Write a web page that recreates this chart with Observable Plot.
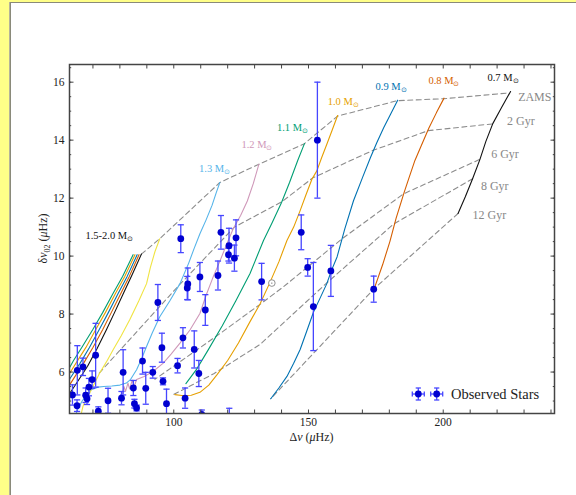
<!DOCTYPE html>
<html>
<head>
<meta charset="utf-8">
<script src="https://cdn.jsdelivr.net/npm/d3@7"></script>
<script src="https://cdn.jsdelivr.net/npm/@observablehq/plot@0.6"></script>
<style>
  html, body { margin: 0; padding: 0; }
  body { width: 576px; height: 495px; background: #ffff88; position: relative; overflow: hidden; font-family: "Liberation Serif", serif; }
  #panel { position: absolute; left: 10px; top: 2px; width: 600px; height: 520px; background: #fff; border: 1.5px solid #8a8a7a; box-shadow: -1px 0 0 #b5b39a; }
  #chart { position: absolute; left: 0; top: 0; }
  svg { background: transparent !important; }
</style>
</head>
<body>
<div id="panel"></div>
<div id="chart"></div>
<script>
// ---------- Observed stars: Δν, δν02, error ----------
const starDnu  = [153.3,102.6,117.5,120.5,120.3,123.1,122.5,116.4,109.7,105.2,105.0,94.1,111.7,103.4,95.6,107.6,101.4,109.3,88.4,81.2,92.2,96.0,85.0,89.6,80.6,75.6,85.4,86.2,97.3,104.2,72.0,110.4,120.6,147.3,149.7,158.3,151.8,174.2,132.6,71.0,64.2,66.3,69.7,68.5,67.3,67.8,62.4,64.1];
const starD02  = [14.0,10.6,10.82,10.36,10.05,10.63,9.93,9.33,9.28,9.04,8.9,8.4,8.14,7.18,6.84,6.78,6.22,5.95,6.38,5.99,5.99,5.68,5.45,5.44,5.1,5.01,4.91,4.76,4.91,5.1,4.65,4.54,4.35,10.82,9.61,9.49,8.26,8.86,9.12,6.58,6.06,6.18,5.74,5.48,5.2,5.08,5.21,4.84];
const starErr  = [2.0,0.48,0.58,0.6,0.22,0.62,0.45,0.5,0.5,0.55,0.4,0.62,0.53,0.35,0.5,0.64,0.25,0.45,0.45,0.78,0.2,0.12,0.26,0.55,0.23,0.43,0.15,0.1,0.5,0.35,0.15,0.15,0.4,0.6,0.3,0.88,1.52,0.45,0.63,1.1,0.85,0.3,0.3,0.3,0.25,0.2,0.35,0.2];

// ---------- Evolution tracks (Δν, δν02) ----------
const trackNames  = ["0.7","0.8","0.9","1.0","1.1","1.2","1.3","1.4","1.5","1.6","1.7","1.8","1.9"];
const trackColors = ["#111111","#D55E00","#0072B2","#E69F00","#009E73","#cf98b9","#56B4E9","#F0E442","#111111","#D55E00","#0072B2","#E69F00","#009E73"];
const track07 = [[225,15.68],[221.5,15.1],[218.4,14.57],[215.8,13.95],[213.6,13.33],[210.9,12.67],[208.2,12.05],[205.5,11.47]];
const track08 = [[200.3,15.45],[197.5,14.95],[194.6,14.4],[191.8,13.8],[189.5,13.3],[187.3,12.7],[185.5,12.2],[182.5,11.3],[180.2,10.5],[177.5,9.7],[174.4,8.88]];
const track09 = [[183.1,15.38],[180.5,14.9],[177.9,14.43],[175.3,13.9],[173,13.4],[170,12.7],[166.7,11.91],[163.5,10.95],[160.6,9.97],[158.5,9.5],[156.8,9.05],[154.3,8.55],[151.9,8.08],[149.3,7.4],[146.9,6.78],[144.5,6.3],[142,5.85],[139,5.45],[136,5.08]];
const track10 = [[160.8,14.85],[158.8,14.35],[156.8,13.86],[154.9,13.4],[153.1,12.94],[151.3,12.66],[149,12.1],[146.9,11.57],[144.5,11.0],[142,10.54],[139,9.8],[135.5,9.05],[132,8.35],[128.3,7.74],[124,7.0],[120,6.4],[116,5.9],[113,5.55],[109.7,5.3],[106.5,5.2],[103,5.19],[100.4,5.22]];
const track11 = [[148.5,13.88],[146,13.3],[143,12.55],[140,11.85],[136.5,11.15],[133.3,10.54],[128.3,9.4],[123,8.45],[118,7.6],[113,6.8],[108.5,6.1],[104.5,5.6]];
const track12 = [[131.6,13.17],[129.5,12.5],[127.3,11.9],[124.8,11.4],[122.1,10.95],[119.6,10.4],[117,9.8],[114.7,9.3],[112,8.65],[109.7,8.02],[106,7.45],[102.3,7.0],[99,6.62],[96.1,6.31],[92.3,6.02],[89,5.85],[86.2,5.74],[85.3,5.5],[84.6,5.72],[83.6,5.42],[83,5.62],[82.1,5.33],[81.5,5.5],[81,5.25]];
const track13 = [[117.1,12.54],[115.8,12.2],[114.2,11.75],[112,11.25],[109.7,10.77],[107.5,10.25],[105.5,9.75],[102.3,9.05],[98.5,8.45],[94.8,7.91],[92,7.35],[89.9,6.88],[88,6.45],[86.2,6.08],[84,5.75],[82.4,5.62],[80,5.55],[77,5.52],[74,5.5],[71.9,5.48],[69.4,5.39],[67.5,5.2],[66,5.0],[64.5,4.75],[63.5,4.5]];
const track14 = [[94.8,10.6],[93,10.15],[91.3,9.6],[89.9,9.05],[87,8.45],[83.7,7.81],[80.5,7.25],[77.5,6.77],[75,6.35],[72.5,5.97],[70.5,5.6],[68.8,5.28],[67.5,5.05],[66.3,4.82],[65.5,4.5]];
const track15 = [[88.0,10.07],[84.5,9.35],[81.5,8.75],[78,8.05],[75,7.46],[71.5,6.8],[68,6.2],[64.5,5.7],[61.3,5.25]];
const track16 = [[87.1,10.05],[83.5,9.3],[80.3,8.7],[76.8,8.05],[73.6,7.46],[70,6.85],[66.5,6.3],[63,5.8],[61.3,5.55]];
const track17 = [[86.4,10.05],[82.7,9.3],[79.3,8.7],[75.7,8.05],[72.3,7.46],[68.7,6.85],[65.2,6.3],[61.3,5.75]];
const track18 = [[85.6,10.05],[81.8,9.3],[78.3,8.7],[74.6,8.05],[71,7.46],[67.4,6.85],[64,6.35],[61.3,5.95]];
const track19 = [[84.9,10.05],[81,9.3],[77.4,8.7],[73.6,8.05],[69.9,7.46],[66.2,6.9],[62.8,6.4],[61.3,6.15]];
const tracks = [track07,track08,track09,track10,track11,track12,track13,track14,track15,track16,track17,track18,track19];

// ---------- Isochrones ----------
const isoNames = ["ZAMS","2 Gyr","6 Gyr","8 Gyr","12 Gyr"];
const isoZAMS = [[88.0,10.07],[94.8,10.6],[117.1,12.54],[131.6,13.17],[148.5,13.88],[160.8,14.83],[182.9,15.36],[200.2,15.43],[224.4,15.63]];
const iso2  = [[218.2,14.56],[194.5,14.33],[174,13.65],[151.6,12.7],[140.2,11.88],[122.5,11.0],[102,9.0],[72.2,5.95]];
const iso6  = [[213.4,13.33],[185.3,12.15],[162.5,10.6],[140.7,8.94],[131.5,8.3],[116,7.25],[93,5.75]];
const iso8  = [[210.9,12.67],[181.5,11.1],[156.5,9.05],[132,6.95],[115,5.95],[99,5.18]];
const iso12 = [[205.5,11.47],[174.4,8.88],[136,5.08]];
const isos = [isoZAMS, iso2, iso6, iso8, iso12];

// ---------- Labels ----------
const massLabels = ["1.5-2.0","1.3","1.2","1.1","1.0","0.9","0.8","0.7"];
const massLabelX = [67.2,109.4,125.1,138.3,157.1,174.9,194.5,216.4];
const massLabelY = [10.71,13.03,13.84,14.44,15.34,15.83,16.05,16.14];
const massLabelC = ["#111111","#56B4E9","#cf98b9","#009E73","#E69F00","#0072B2","#D55E00","#111111"];
const isoLabelX = [227.8,223.7,217.8,214.0,210.9];
const isoLabelY = [15.50,14.65,13.52,12.41,11.40];
const sun = [[136.4,9.07]];

const xTicks = [100,150,200];
const yTicks = [6,8,10,12,14,16];

// flatten tables
const trackRows = tracks.flatMap((t, i) => t.map(([x, y]) => ({x, y, name: trackNames[i]})));
const isoRows = isos.flatMap((t, i) => t.map(([x, y]) => ({x, y, name: isoNames[i]})));
const stars = starDnu.map((x, i) => ({x, y: starD02[i], lo: starD02[i] - starErr[i], hi: starD02[i] + starErr[i]}));
const mlab = massLabels.map((m, i) => ({x: massLabelX[i], y: massLabelY[i], m, c: massLabelC[i]}));
const ilab = isoNames.map((n, i) => ({x: isoLabelX[i], y: isoLabelY[i], n}));

const xDom = [61.3, 241.3], yDom = [4.57, 16.61];
const minorX = d3.range(70, 241, 10);
const minorY = d3.range(5, 16.6, 0.5);
const font = "Liberation Serif, serif";

// horizontal-bar symbol for error-bar caps
const capSymbol = {draw(ctx, size) { const w = Math.sqrt(size / Math.PI); ctx.moveTo(-w, 0); ctx.lineTo(w, 0); }};
const errColor = "#4646ff";
const dotColor = "#0000d0";

const plot = Plot.plot({
  width: 576, height: 495,
  marginLeft: 69, marginRight: 22, marginTop: 64, marginBottom: 82,
  style: {fontFamily: font, background: "transparent", color: "#222"},
  x: {domain: xDom},
  y: {domain: yDom},
  color: {domain: trackNames, range: trackColors},
  marks: [
    Plot.line(isoRows, {x: "x", y: "y", z: "name", stroke: "#8c8c8c", strokeWidth: 1.1, strokeDasharray: "5,3.5", clip: true}),
    Plot.line(trackRows, {x: "x", y: "y", z: "name", stroke: "name", strokeWidth: 1.1, clip: true}),
    Plot.ruleX(stars, {x: "x", y1: "lo", y2: "hi", stroke: errColor, strokeWidth: 1.3, clip: true}),
    Plot.dot(stars, {x: "x", y: "lo", symbol: capSymbol, r: 3.1, stroke: errColor, strokeWidth: 1.3, clip: true}),
    Plot.dot(stars, {x: "x", y: "hi", symbol: capSymbol, r: 3.1, stroke: errColor, strokeWidth: 1.3, clip: true}),
    Plot.dot(stars, {x: "x", y: "y", r: 3.4, fill: dotColor, clip: true}),
    Plot.dot(sun, {x: d => d[0], y: d => d[1], r: 3.3, stroke: "#777", strokeWidth: 0.8, fill: "white"}),
    Plot.dot(sun, {x: d => d[0], y: d => d[1], r: 0.6, fill: "#555"}),
    Plot.text(mlab, {x: "x", y: "y", text: "m", fill: "c", textAnchor: "start", fontSize: 10.5, fontFamily: font}),
    Plot.text(ilab, {x: "x", y: "y", text: "n", fill: "#888", textAnchor: "start", fontSize: 12, fontFamily: font}),
    Plot.frame({stroke: "#444", strokeWidth: 1.5}),
    Plot.axisX(xTicks, {anchor: "bottom", tickSize: 0, tickPadding: 4, fontSize: 11.5, fontFamily: font, label: null}),
    Plot.axisX(minorX, {anchor: "bottom", tickSize: -3.5, text: null, label: null, stroke: "#444"}),
    Plot.axisX(minorX, {anchor: "top", tickSize: -3.5, text: null, label: null, stroke: "#444"}),
    Plot.axisY(yTicks, {anchor: "left", tickSize: 0, tickPadding: 5, fontSize: 11.5, fontFamily: font, label: null}),
    Plot.axisY(yTicks, {anchor: "left", tickSize: -4.5, text: null, label: null, stroke: "#444"}),
    Plot.axisY(minorY, {anchor: "left", tickSize: -2.2, text: null, label: null, stroke: "#444"}),
    Plot.axisY(yTicks, {anchor: "right", tickSize: -4.5, text: null, label: null, stroke: "#444"}),
    Plot.axisY(minorY, {anchor: "right", tickSize: -2.2, text: null, label: null, stroke: "#444"})
  ]
});

document.getElementById("chart").appendChild(plot);

// solar subscript on mass labels, axis titles, legend
const svg = d3.select(plot);
svg.selectAll("text").filter(function() { return /^\d\.\d(-2\.0)?$/.test(this.textContent); })
  .each(function() {
    const t = d3.select(this);
    const txt = t.text();
    t.text(txt + " M");
    t.append("tspan").attr("font-size", 7).attr("dy", 2).text("\u2299");
  });

const fx = plot.scale("x"), fy = plot.scale("y");
const x0 = fx.apply(xDom[0]), x1 = fx.apply(xDom[1]), y0 = fy.apply(yDom[0]), y1 = fy.apply(yDom[1]);

svg.append("text").attr("x", (x0 + x1) / 2).attr("y", y0 + 28).attr("text-anchor", "middle")
  .attr("font-size", 12).attr("font-family", font).attr("fill", "#222")
  .html('\u0394<tspan font-style="italic">\u03bd</tspan> (<tspan font-style="italic">\u03bc</tspan>Hz)');
svg.append("text").attr("transform", `translate(${x0 - 22},${(y0 + y1) / 2}) rotate(-90)`).attr("text-anchor", "middle")
  .attr("font-size", 12).attr("font-family", font).attr("fill", "#222")
  .html('\u03b4<tspan font-style="italic">\u03bd</tspan><tspan font-size="8" dy="3">02</tspan><tspan dy="-3"> (</tspan><tspan font-style="italic">\u03bc</tspan>Hz)');

const lg = svg.append("g").attr("fill", "none");
const legY = 394;
[418.3, 436.7].forEach(cx => {
  const line = (a, b, c, d) => lg.append("line").attr("x1", a).attr("y1", b).attr("x2", c).attr("y2", d).attr("stroke", errColor).attr("stroke-width", 1.3);
  line(cx - 6, legY, cx + 6, legY);
  line(cx, legY - 6, cx, legY + 6);
  [-6, 6].forEach(o => { line(cx - 2.6, legY + o, cx + 2.6, legY + o); line(cx + o, legY - 2.6, cx + o, legY + 2.6); });
  lg.append("circle").attr("cx", cx).attr("cy", legY).attr("r", 3.4).attr("fill", dotColor);
});
svg.append("text").attr("x", 451).attr("y", legY + 4.8).attr("text-anchor", "start").attr("font-size", 14.5).attr("font-family", font).attr("fill", "#222").text("Observed Stars");
</script>
</body>
</html>
